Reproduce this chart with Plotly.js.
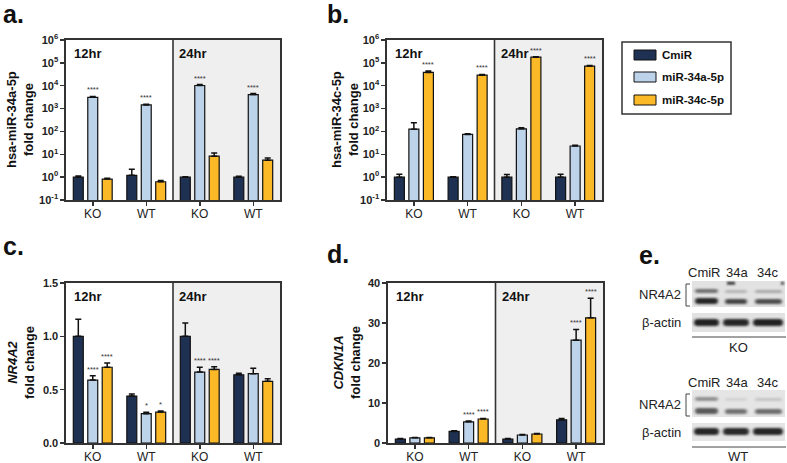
<!DOCTYPE html>
<html>
<head>
<meta charset="utf-8">
<script src="https://cdn.plot.ly/plotly-3.0.1.min.js"></script>
<style>html,body{margin:0;padding:0;background:#fff;}#chart{width:787px;height:463px;}</style>
</head>
<body>
<div id="chart"></div>
<script>
// ---------- data ----------
const groups = ['KO', 'WT', 'KO', 'WT'];
const timeLabels = ['12hr', '24hr'];
const seriesNames = ['CmiR', 'miR-34a-5p', 'miR-34c-5p'];
const seriesColors = ['#1e3152', '#bcd3ea', '#fbb827'];
const panelLetters = ['a.', 'b.', 'c.', 'd.', 'e.'];

// a. hsa-miR-34a-5p fold change (log)
const a_cmir = [1.0, 1.2, 1.0, 1.0];
const a_cmir_err = [0.12, 1.0, 0.04, 0.1];
const a_34a = [3100, 1450, 10200, 4100];
const a_34a_err = [300, 100, 1000, 450];
const a_34c = [0.82, 0.63, 8.3, 5.5];
const a_34c_err = [0.08, 0.08, 3.2, 1.3];
const a_sig_cmir = ['', '', '', ''];
const a_sig_34a = ['****', '****', '****', '****'];
const a_sig_34c = ['', '', '', ''];

// b. hsa-miR-34c-5p fold change (log)
const b_cmir = [1.0, 1.0, 1.0, 1.0];
const b_cmir_err = [0.35, 0.03, 0.3, 0.35];
const b_34a = [126, 74, 130, 23];
const b_34a_err = [114, 5, 15, 2];
const b_34c = [38000, 29000, 177000, 72000];
const b_34c_err = [6000, 2000, 10000, 5000];
const b_sig_cmir = ['', '', '', ''];
const b_sig_34a = ['', '', '', ''];
const b_sig_34c = ['****', '****', '****', '****'];

// c. NR4A2 fold change
const c_cmir = [1.0, 0.44, 1.0, 0.64];
const c_cmir_err = [0.16, 0.02, 0.125, 0.015];
const c_34a = [0.59, 0.275, 0.665, 0.65];
const c_34a_err = [0.04, 0.013, 0.045, 0.05];
const c_34c = [0.71, 0.29, 0.69, 0.578];
const c_34c_err = [0.04, 0.01, 0.025, 0.025];
const c_sig_cmir = ['', '', '', ''];
const c_sig_34a = ['****', '*', '****', ''];
const c_sig_34c = ['****', '*', '****', ''];

// d. CDKN1A fold change
const d_cmir = [1.0, 2.9, 1.0, 5.8];
const d_cmir_err = [0.1, 0.15, 0.1, 0.3];
const d_34a = [1.3, 5.3, 2.0, 25.7];
const d_34a_err = [0.1, 0.2, 0.15, 2.7];
const d_34c = [1.3, 6.0, 2.25, 31.3];
const d_34c_err = [0.1, 0.15, 0.15, 4.9];
const d_sig_cmir = ['', '', '', ''];
const d_sig_34a = ['', '****', '', '****'];
const d_sig_34c = ['', '****', '', '****'];

// axis titles
const yTitles = [
  'hsa-miR-34a-5p<br>fold change',
  'hsa-miR-34c-5p<br>fold change',
  '<i>NR4A2</i><br>fold change',
  '<i>CDKN1A</i><br>fold change'
];
const logTickVals = [0.1, 1, 10, 100, 1000, 10000, 100000, 1000000];
const logTickText = ['10<sup>-1</sup>', '10<sup>0</sup>', '10<sup>1</sup>', '10<sup>2</sup>',
  '10<sup>3</sup>', '10<sup>4</sup>', '10<sup>5</sup>', '10<sup>6</sup>'];

// panel e text
const blotLanes = ['CmiR', '34a', '34c'];
const blotRows = ['NR4A2', 'β-actin'];
const blotLines = ['KO', 'WT'];

// ---------- layout helpers ----------
const W = 787, H = 463;
const px = x => x / W;
const py = y => 1 - y / H;
const FONT = 'Liberation Sans, Arial, sans-serif';
const BARGAP = 0.19, BARGROUPGAP = 0.31;

const panels = [
  {vals: [a_cmir, a_34a, a_34c], errs: [a_cmir_err, a_34a_err, a_34c_err], sig: [a_sig_cmir, a_sig_34a, a_sig_34c], log: true, box: [66, 280, 40, 200], range: [-1, 6]},
  {vals: [b_cmir, b_34a, b_34c], errs: [b_cmir_err, b_34a_err, b_34c_err], sig: [b_sig_cmir, b_sig_34a, b_sig_34c], log: true, box: [387, 602, 40, 200], range: [-1, 6]},
  {vals: [c_cmir, c_34a, c_34c], errs: [c_cmir_err, c_34a_err, c_34c_err], sig: [c_sig_cmir, c_sig_34a, c_sig_34c], log: false, box: [66, 280, 283, 443], range: [0, 1.5], dtick: 0.5, fmt: '.1f'},
  {vals: [d_cmir, d_34a, d_34c], errs: [d_cmir_err, d_34a_err, d_34c_err], sig: [d_sig_cmir, d_sig_34a, d_sig_34c], log: false, box: [388, 603, 283, 443], range: [0, 40], dtick: 10, fmt: 'd'}
];
const yTitleX = [20, 345, 21, 347];
const xIdx = [0, 1, 2, 3];

const traces = [];
const annotations = [];
const shapes = [];
const layout = {
  width: W, height: H,
  margin: {l: 0, r: 0, t: 0, b: 0},
  paper_bgcolor: '#ffffff', plot_bgcolor: 'rgba(0,0,0,0)',
  showlegend: false,
  barmode: 'group', bargap: BARGAP, bargroupgap: BARGROUPGAP,
  font: {family: FONT, color: '#222'},
};

panels.forEach((p, k) => {
  const n = k === 0 ? '' : String(k + 1);
  const xa = 'x' + n, ya = 'y' + n;
  const [x0, x1, y0, y1] = p.box;
  layout['xaxis' + n] = {
    domain: [px(x0), px(x1)], anchor: ya, range: [-0.5, 3.5],
    tickmode: 'array', tickvals: xIdx, ticktext: groups,
    ticks: 'outside', ticklen: 4, tickwidth: 1.5, tickcolor: '#333',
    ticklabelstandoff: -2,
    showline: true, linecolor: '#333', linewidth: 1.6, mirror: true,
    showgrid: false, zeroline: false, fixedrange: true,
    tickfont: {family: FONT, size: 12, color: '#222'}
  };
  const yax = {
    domain: [py(y1), py(y0)], anchor: xa,
    showline: true, linecolor: '#333', linewidth: 1.6, mirror: true,
    ticks: 'outside', ticklen: 4, tickwidth: 1.5, tickcolor: '#333',
    showgrid: false, zeroline: false, fixedrange: true,
    tickfont: {family: FONT, size: 11, color: '#222', weight: 'bold'}
  };
  if (p.log) {
    Object.assign(yax, {type: 'log', range: p.range, tickmode: 'array', tickvals: logTickVals, ticktext: logTickText});
  } else {
    Object.assign(yax, {type: 'linear', range: p.range, dtick: p.dtick, tick0: 0, tickformat: p.fmt});
  }
  layout['yaxis' + n] = yax;

  // 24hr grey background and divider
  shapes.push({type: 'rect', xref: xa, yref: ya + ' domain', x0: 1.5, x1: 3.5, y0: 0, y1: 1,
    fillcolor: '#efefef', line: {width: 0}, layer: 'below'});
  shapes.push({type: 'line', xref: xa, yref: ya + ' domain', x0: 1.5, x1: 1.5, y0: 0, y1: 1,
    line: {color: '#333', width: 1.6}});

  // bars
  p.vals.forEach((v, s) => {
    traces.push({
      type: 'bar', x: xIdx, y: v, xaxis: xa, yaxis: ya, name: seriesNames[s],
      marker: {color: seriesColors[s], line: {color: '#111', width: 1.2}},
      error_y: {type: 'data', symmetric: false, array: p.errs[s], arrayminus: v.map(() => 0),
        color: '#111', thickness: 1.5, width: 3},
      hoverinfo: 'skip'
    });
    // significance marks
    const slot = (1 - BARGAP) / 3;
    p.sig[s].forEach((t, i) => {
      if (!t) return;
      const top = v[i] + p.errs[s][i];
      annotations.push({xref: xa, yref: ya, x: i + (s - 1) * slot, y: p.log ? Math.log10(top) : top,
        text: t, showarrow: false, yanchor: 'bottom', xanchor: 'center', yshift: 0,
        font: {family: FONT, size: 7.5, color: '#333'}});
    });
  });

  // time labels
  annotations.push({xref: 'paper', yref: 'paper', x: px(x0 + 6), y: py(y0 + 13), xanchor: 'left', yanchor: 'middle',
    text: timeLabels[0], showarrow: false, font: {family: FONT, size: 13, weight: 'bold', color: '#111'}});
  annotations.push({xref: 'paper', yref: 'paper', x: px((x0 + x1) / 2 + 4), y: py(y0 + 13), xanchor: 'left', yanchor: 'middle',
    text: timeLabels[1], showarrow: false, font: {family: FONT, size: 13, weight: 'bold', color: '#111'}});

  // y titles
  annotations.push({xref: 'paper', yref: 'paper', x: px(yTitleX[k]), y: py((y0 + y1) / 2), xanchor: 'center', yanchor: 'middle',
    textangle: -90, text: yTitles[k], showarrow: false,
    font: {family: FONT, size: 13, weight: 'bold', color: '#111'}});
});

// panel letters
const letterPos = [[2, 14], [326, 14], [2, 246], [326, 254], [638, 255]];
letterPos.forEach((pos, i) => {
  annotations.push({xref: 'paper', yref: 'paper', x: px(pos[0]), y: py(pos[1]), xanchor: 'left', yanchor: 'middle',
    borderpad: 0, text: panelLetters[i], showarrow: false, font: {family: FONT, size: 25, weight: 'bold', color: '#111'}});
});

// legend
shapes.push({type: 'rect', xref: 'paper', yref: 'paper', x0: px(622), x1: px(731), y0: py(114), y1: py(42),
  line: {color: '#333', width: 1.5}, fillcolor: '#ffffff'});
const legRows = [55, 77, 100];
seriesNames.forEach((nm, s) => {
  shapes.push({type: 'rect', xref: 'paper', yref: 'paper', x0: px(634), x1: px(656), y0: py(legRows[s] + 5), y1: py(legRows[s] - 5),
    line: {color: '#111', width: 1}, fillcolor: seriesColors[s]});
  annotations.push({xref: 'paper', yref: 'paper', x: px(660), y: py(legRows[s]), xanchor: 'left', yanchor: 'middle',
    text: nm, showarrow: false, font: {family: FONT, size: 11.5, weight: 'bold', color: '#111'}});
});

// panel e: text
const laneX = [704, 737, 767];
const blockTop = [0, 110];
blockTop.forEach((dy, b) => {
  blotLanes.forEach((t, j) => {
    annotations.push({xref: 'paper', yref: 'paper', x: px(laneX[j]), y: py(272 + dy), xanchor: 'center', yanchor: 'middle',
      text: t, showarrow: false, font: {family: FONT, size: 13, color: '#222'}});
  });
  annotations.push({xref: 'paper', yref: 'paper', x: px(683), y: py(294 + dy), xanchor: 'right', yanchor: 'middle',
    text: blotRows[0], showarrow: false, font: {family: FONT, size: 13, color: '#222'}});
  annotations.push({xref: 'paper', yref: 'paper', x: px(683), y: py(322 + dy), xanchor: 'right', yanchor: 'middle',
    text: blotRows[1], showarrow: false, font: {family: FONT, size: 13, color: '#222'}});
  annotations.push({xref: 'paper', yref: 'paper', x: px(738), y: py(347 + dy - (b ? 1 : 0)), xanchor: 'center', yanchor: 'middle',
    borderpad: 0, text: blotLines[b], showarrow: false, font: {family: FONT, size: 13, color: '#222'}});
  // bracket
  shapes.push({type: 'path', xref: 'paper', yref: 'paper',
    path: `M ${px(690)},${py(284 + dy)} L ${px(686)},${py(284 + dy)} L ${px(686)},${py(306 + dy)} L ${px(690)},${py(306 + dy)}`,
    line: {color: '#444', width: 1}});
  // underline
  shapes.push({type: 'line', xref: 'paper', yref: 'paper', x0: px(692), x1: px(786), y0: py(337 + dy), y1: py(337 + dy),
    line: {color: '#444', width: 1}});
});

// panel e: blot picture (SVG)
const svg = `<svg xmlns="http://www.w3.org/2000/svg" width="97" height="167" viewBox="690 278 97 167">
<defs><filter id="f" x="-30%" y="-200%" width="160%" height="500%"><feGaussianBlur stdDeviation="1.5 1.2"/></filter>
<filter id="g" x="-30%" y="-200%" width="160%" height="500%"><feGaussianBlur stdDeviation="0.8 0.8"/></filter></defs>
<rect x="692" y="281" width="93" height="26" fill="#e2e2e2"/>
<rect x="692" y="313" width="93" height="19" fill="#e2e2e2"/>
<rect x="692" y="390" width="93" height="27" fill="#e5e5e5"/>
<rect x="692" y="423" width="93" height="18" fill="#e5e5e5"/>
<g filter="url(#f)">
<rect x="695" y="289" width="23" height="4" rx="2" fill="#707070"/>
<rect x="695" y="298" width="23" height="6" rx="3" fill="#262626"/>
<rect x="725" y="290" width="22" height="3" rx="1.5" fill="#b4b4b4"/>
<rect x="725" y="299" width="22" height="5" rx="2.5" fill="#444"/>
<rect x="755" y="290" width="27" height="3" rx="1.5" fill="#a8a8a8"/>
<rect x="755" y="299" width="27" height="5" rx="2.5" fill="#505050"/>
<rect x="694" y="319" width="25" height="7" rx="3.5" fill="#222"/>
<rect x="723" y="319" width="26" height="7" rx="3.5" fill="#262626"/>
<rect x="753" y="319" width="30" height="7" rx="3.5" fill="#222"/>
<rect x="695" y="397" width="23" height="4" rx="2" fill="#909090"/>
<rect x="695" y="408" width="23" height="6" rx="3" fill="#5a5a5a"/>
<rect x="725" y="398" width="22" height="3" rx="1.5" fill="#d2d2d2"/>
<rect x="725" y="409" width="22" height="5" rx="2.5" fill="#727272"/>
<rect x="755" y="398" width="27" height="3" rx="1.5" fill="#c4c4c4"/>
<rect x="755" y="409" width="27" height="5" rx="2.5" fill="#6c6c6c"/>
<rect x="694" y="428" width="25" height="7" rx="3.5" fill="#262626"/>
<rect x="723" y="428" width="26" height="7" rx="3.5" fill="#2a2a2a"/>
<rect x="753" y="428" width="30" height="7" rx="3.5" fill="#262626"/>
</g>
<g filter="url(#g)">
<rect x="727" y="282" width="8" height="2.5" fill="#222"/>
<rect x="781" y="282" width="3" height="2.5" fill="#333"/>
</g>
</svg>`;
layout.images = [{
  source: 'data:image/svg+xml;charset=utf-8,' + encodeURIComponent(svg),
  xref: 'paper', yref: 'paper', x: px(690), y: py(278), sizex: 97 / W, sizey: 167 / H,
  xanchor: 'left', yanchor: 'top', sizing: 'stretch', layer: 'above'
}];

layout.shapes = shapes;
layout.annotations = annotations;

Plotly.newPlot('chart', traces, layout, {displayModeBar: false, staticPlot: true});
</script>
</body>
</html>
